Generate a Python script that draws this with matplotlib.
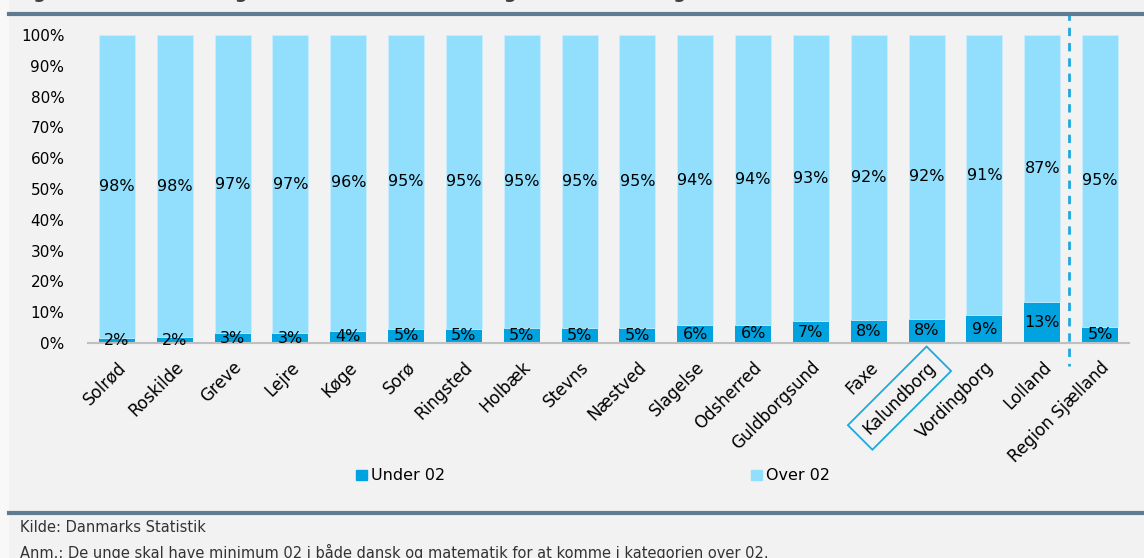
import matplotlib.pyplot as plt
from matplotlib.patches import Rectangle
from matplotlib.lines import Line2D

# data (percent of young people, under / over grade 02)
kommuner = ['Solrød', 'Roskilde', 'Greve', 'Lejre', 'Køge', 'Sorø', 'Ringsted',
            'Holbæk', 'Stevns', 'Næstved', 'Slagelse', 'Odsherred', 'Guldborgsund',
            'Faxe', 'Kalundborg', 'Vordingborg', 'Lolland', 'Region Sjælland']
under_02 = [1.6, 1.9, 3.2, 3.2, 3.9, 4.6, 4.7, 4.8, 4.9, 4.9, 5.7, 5.9, 7.1,
            7.6, 7.8, 9.0, 13.2, 5.2]
over_02 = [98.4, 98.1, 96.8, 96.8, 96.1, 95.4, 95.3, 95.2, 95.1, 95.1, 94.3, 94.1,
           92.9, 92.4, 92.2, 91.0, 86.8, 94.8]
yticks = [0, 10, 20, 30, 40, 50, 60, 70, 80, 90, 100]

title = 'Figur 3.4: Andel af unge med under 02 i dansk og matematik fra grundskolen'
kilde = 'Kilde: Danmarks Statistik'
anm = 'Anm.: De unge skal have minimum 02 i både dansk og matematik for at komme i kategorien over 02.'

c_under = '#00a3e0'
c_over = '#91dffc'
bg = '#f2f2f2'
rule = '#5f7b91'

W, H = 1144, 558
fig = plt.figure(figsize=(W / 100, H / 100), dpi=100, facecolor=bg)

# light strip at left edge
fig.patches.append(Rectangle((0, 0), 9 / W, 1, transform=fig.transFigure,
                             facecolor='#f8f8f8', edgecolor='none', zorder=0))

# title (cut off at the top in the original) and horizontal rules
fig.text(15 / W, 1 - 2 / H, title, fontsize=13, fontweight='bold', color='#404040',
         va='bottom', ha='left')
fig.add_artist(Line2D([9 / W, 1], [1 - 13.5 / H] * 2, color=rule, lw=3))
fig.add_artist(Line2D([9 / W, 1], [1 - 512.5 / H] * 2, color=rule, lw=3))

ax = fig.add_axes([88 / W, (H - 343) / H, (1129 - 88) / W, 308 / H])
ax.set_facecolor(bg)

x = list(range(len(kommuner)))
ax.bar(x, under_02, width=0.62, color=c_under, label='Under 02')
ax.bar(x, over_02, width=0.62, bottom=under_02, color=c_over,
       edgecolor='#c9efff', linewidth=0.6, label='Over 02')

for i in x:
    ax.text(i, under_02[i] / 2, f'{under_02[i]:.0f}%', ha='center', va='center',
            fontsize=11.5, color='black')
    ax.text(i, under_02[i] + over_02[i] / 2, f'{over_02[i]:.0f}%', ha='center',
            va='center', fontsize=11.5, color='black')

ax.set_xlim(-0.5, 17.5)
ax.set_ylim(0, 100)
ax.set_yticks(yticks)
ax.set_yticklabels([f'{t}%' for t in yticks], fontsize=11)
ax.tick_params(axis='y', length=0, pad=17)
ax.set_xticks(x)
labels = ax.set_xticklabels(kommuner, rotation=45, ha='right', rotation_mode='anchor',
                            fontsize=12)
ax.tick_params(axis='x', length=0, pad=11)
labels[14].set_bbox(dict(boxstyle='square,pad=0.5', facecolor='none',
                         edgecolor='#1fa8e0', linewidth=1.3))

for s in ['top', 'right', 'left']:
    ax.spines[s].set_visible(False)
ax.spines['bottom'].set_color('#bfbfbf')
ax.spines['bottom'].set_linewidth(1.5)

# dashed separator before the region total
ax.plot([16.47, 16.47], [107.5, -7.5], color='#1fa8e0', lw=2, ls=(0, (3, 2.5)),
        clip_on=False)

handles = [Rectangle((0, 0), 1, 1, color=c_under), Rectangle((0, 0), 1, 1, color=c_over)]
fig.legend(handles, ['Under 02', 'Over 02'], loc='center',
           bbox_to_anchor=(593 / W, 1 - 476 / H), ncol=2, frameon=False, fontsize=11.5,
           handlelength=0.65, handleheight=0.65, handletextpad=0.25, columnspacing=19.2)

fig.text(20 / W, 1 - 527 / H, kilde, fontsize=10.5, color='#333333', va='center',
         family=['Liberation Sans Narrow', 'DejaVu Sans'])
fig.text(20 / W, 1 - 552 / H, anm, fontsize=10.5, color='#333333', va='center',
         family=['Liberation Sans Narrow', 'DejaVu Sans'])

fig.savefig('out.png', dpi=100, facecolor=bg)
